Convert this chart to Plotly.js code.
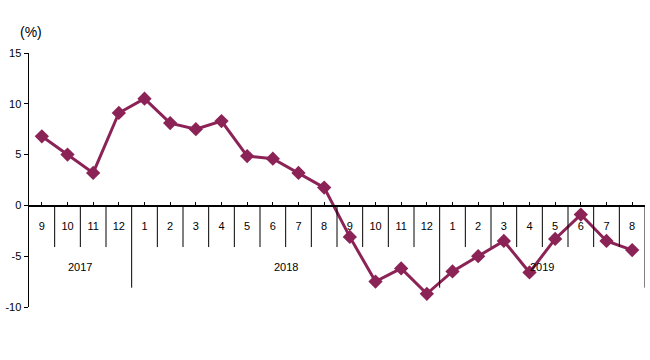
<!DOCTYPE html>
<html>
<head>
<meta charset="utf-8">
<script src="https://cdn.plot.ly/plotly-3.0.1.min.js"></script>
<style>html,body{margin:0;padding:0;background:#fff;}#chart{width:650px;height:360px;}</style>
</head>
<body>
<div id="chart"></div>
<script>
const months = ['9','10','11','12','1','2','3','4','5','6','7','8','9','10','11','12','1','2','3','4','5','6','7','8'];
const years  = ['2017','2017','2017','2017','2018','2018','2018','2018','2018','2018','2018','2018','2018','2018','2018','2018','2019','2019','2019','2019','2019','2019','2019','2019'];
const values = [6.8, 5.0, 3.2, 9.1, 10.5, 8.1, 7.5, 8.3, 4.85, 4.6, 3.2, 1.75, -3.1, -7.5, -6.2, -8.7, -6.5, -5.0, -3.5, -6.6, -3.3, -0.9, -3.5, -4.4];
const yearList = ['2017','2018','2019'];
const yTickVals = [-10, -5, 0, 5, 10, 15];
const yTickText = ['-10', '-5', '0', '5', '10', '15'];

const idx = months.map((_, i) => i);
const lineColor = '#8c2356';

const shapes = [];
for (let i = 1; i <= months.length; i++) {
  const isYearBoundary = (i === months.length) || (years[i] !== years[i - 1]);
  shapes.push({
    type: 'line', xref: 'x', yref: 'y',
    x0: i - 0.5, x1: i - 0.5, y0: 0, y1: isYearBoundary ? -8.1 : -4.1,
    line: {color: '#000', width: 1}
  });
}

const annotations = yearList.map(y => {
  const ids = idx.filter(i => years[i] === y);
  const center = (ids[0] + ids[ids.length - 1]) / 2;
  return {x: center, y: -6.1, xref: 'x', yref: 'y', text: y, showarrow: false,
          font: {family: 'Liberation Sans, Arial, sans-serif', size: 11, color: '#000'}};
});
annotations.push({
  x: (31 - 29) / 616, y: 1 + (53 - 32) / 254, xref: 'paper', yref: 'paper',
  xanchor: 'center', yanchor: 'middle',
  text: '(%)', showarrow: false,
  font: {family: 'Liberation Sans, Arial, sans-serif', size: 14, color: '#000'}
});

const trace = {
  x: idx, y: values, type: 'scatter', mode: 'lines+markers',
  line: {color: lineColor, width: 3},
  marker: {symbol: 'diamond', size: 11, color: lineColor},
  cliponaxis: false
};

const layout = {
  width: 650, height: 360,
  margin: {l: 29, r: 5, t: 53, b: 53},
  paper_bgcolor: '#fff', plot_bgcolor: '#fff',
  showlegend: false,
  font: {family: 'Liberation Sans, Arial, sans-serif', size: 11, color: '#000'},
  xaxis: {
    range: [-0.5, months.length - 0.5],
    tickvals: idx, ticktext: months,
    anchor: 'free', position: 0.4,
    showline: true, linecolor: '#000', linewidth: 1.5,
    ticks: 'inside', ticklen: 3, tickcolor: '#000',
    ticklabelstandoff: 10,
    showgrid: false, zeroline: false, fixedrange: true,
    tickfont: {size: 11, color: '#000'}
  },
  yaxis: {
    range: [-10, 15], tickvals: yTickVals, ticktext: yTickText,
    showline: true, linecolor: '#000', linewidth: 1.5,
    ticks: 'outside', ticklen: 4, tickcolor: '#000',
    showgrid: false, zeroline: false, fixedrange: true,
    tickfont: {size: 11, color: '#000'}
  },
  shapes: shapes,
  annotations: annotations
};

Plotly.newPlot('chart', [trace], layout, {displayModeBar: false, staticPlot: true});
</script>
</body>
</html>
